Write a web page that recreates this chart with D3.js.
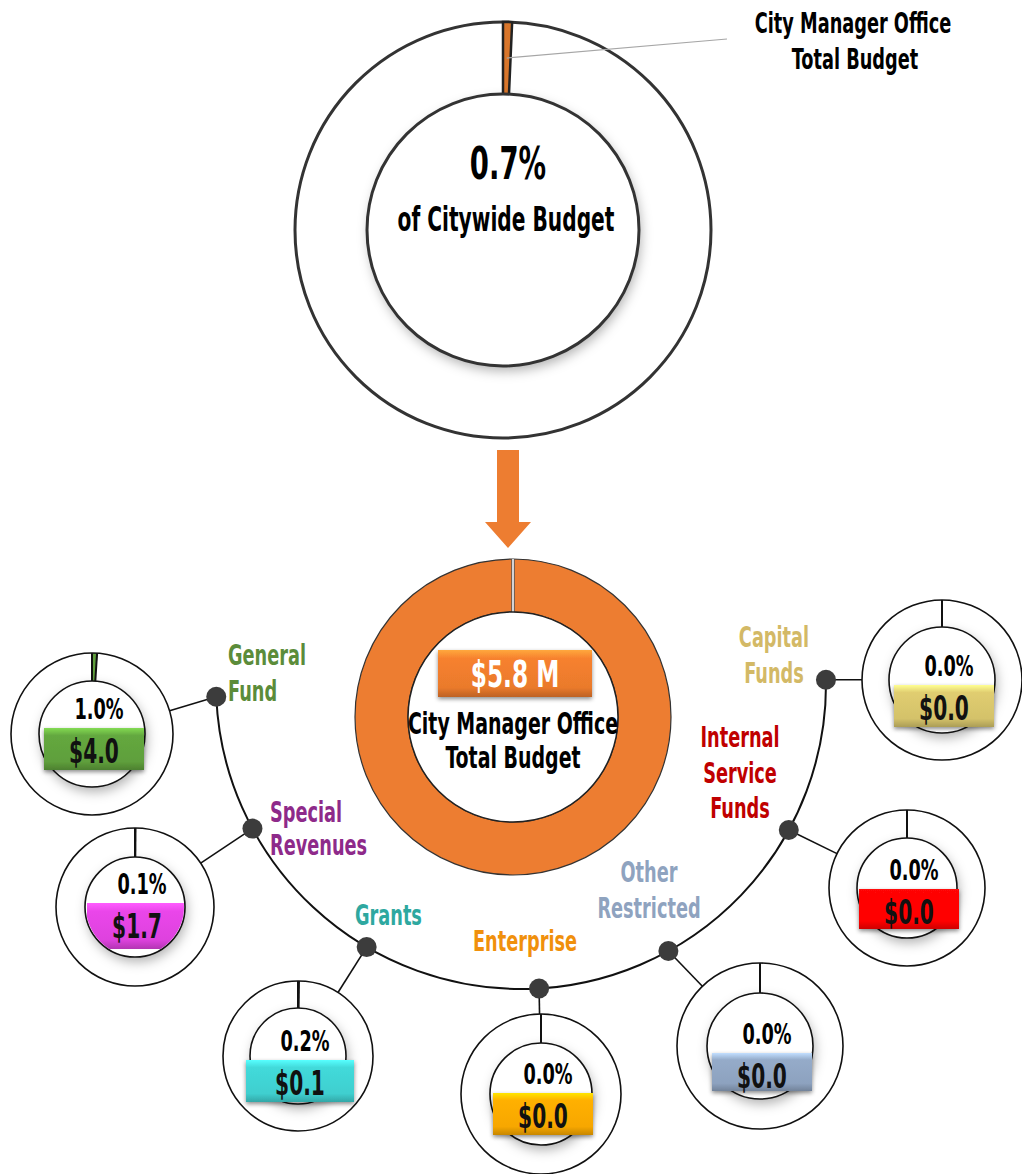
<!DOCTYPE html>
<html lang="en">
<head>
    <meta charset="UTF-8">
    <title>City Manager Office Budget</title>
    <script src="https://cdn.jsdelivr.net/npm/d3@7/dist/d3.min.js"></script>
    <style>
        html, body {
            margin: 0;
            padding: 0;
            background: #ffffff;
            overflow: hidden;
        }
        text {
            font-family: 'DejaVu Sans Condensed', 'DejaVu Sans', sans-serif;
            font-weight: bold;
        }
    </style>
</head>
<body>
<script>
    // share of the citywide budget (percent)
    const citywideShare = [0.7, 99.3];
    const officeTotal = 5.8;   // $ M

    // fund breakdown
    const fundNames = ['General Fund', 'Special Revenues', 'Grants', 'Enterprise',
        'Other Restricted', 'Internal Service Funds', 'Capital Funds'];
    const fundPct = [1.0, 0.1, 0.2, 0.0, 0.0, 0.0, 0.0];
    const fundAmt = [4.0, 1.7, 0.1, 0.0, 0.0, 0.0, 0.0];
    const fundLabelColor = ['#5b8c3a', '#8e2a8a', '#2ea8a0', '#f0900c', '#8fa3bf', '#c00000', '#d3b966'];
    const fundBoxColor = ['#5f9f3c', '#de42de', '#3fcfcf', '#f7a700', '#8da2bf', '#ff0505', '#d4c26a'];

    // layout of the small donuts (positions only)
    const fundLayout = [
        {cx: 92, cy: 734, R: 81, r: 53, boxTop: 728, angle: 177.6, lines: ['General', 'Fund'], lx: 228, ly: 665, lh: 36, anchor: 'start'},
        {cx: 135, cy: 907, R: 79, r: 50, boxTop: 903, boxH: 46, clip: true, angle: 151.7, lines: ['Special', 'Revenues'], lx: 270, ly: 822, lh: 33, anchor: 'start'},
        {cx: 298, cy: 1056, R: 75, r: 48, boxTop: 1060, boxW: 108, angle: 120.4, lines: ['Grants'], lx: 355, ly: 925, lh: 36, anchor: 'start'},
        {cx: 541, cy: 1094, R: 80, r: 51, boxTop: 1093, angle: 86.6, lines: ['Enterprise'], lx: 473, ly: 951, lh: 36, anchor: 'start'},
        {cx: 760, cy: 1046, R: 83, r: 53, boxTop: 1053, boxH: 38, angle: 61.1, lines: ['Other', 'Restricted'], lx: 649, ly: 882, lh: 36, anchor: 'middle'},
        {cx: 907, cy: 888, R: 78, r: 50, boxTop: 889, boxH: 40, angle: 28.6, lines: ['Internal', 'Service', 'Funds'], lx: 740, ly: 747, lh: 35.5, anchor: 'middle'},
        {cx: 942, cy: 680, R: 80, r: 53, boxTop: 685, angle: -0.8, lines: ['Capital', 'Funds'], lx: 774, ly: 647, lh: 36, anchor: 'middle'}
    ];

    const width = 1022;
    const height = 1174;
    const SX = 0.68; // squeeze text horizontally (condensed face)

    let svg = d3.select('body')
        .append('svg')
        .attr('width', width)
        .attr('height', height);

    let defs = svg.append('defs');

    // soft shadow for the inner circles
    let sh = defs.append('filter').attr('id', 'innerShadow')
        .attr('x', '-30%').attr('y', '-30%').attr('width', '160%').attr('height', '160%');
    sh.append('feDropShadow').attr('dx', 2).attr('dy', 5).attr('stdDeviation', 6)
        .attr('flood-color', '#000').attr('flood-opacity', 0.3);

    let bs = defs.append('filter').attr('id', 'boxShadow')
        .attr('x', '-20%').attr('y', '-30%').attr('width', '140%').attr('height', '170%');
    bs.append('feDropShadow').attr('dx', 0).attr('dy', 2).attr('stdDeviation', 2)
        .attr('flood-color', '#000').attr('flood-opacity', 0.45);

    function bevel(id, base) {
        let c = d3.color(base);
        let g = defs.append('linearGradient').attr('id', id)
            .attr('x1', 0).attr('y1', 0).attr('x2', 0).attr('y2', 1);
        g.append('stop').attr('offset', '0%').attr('stop-color', c.brighter(0.9));
        g.append('stop').attr('offset', '18%').attr('stop-color', c.brighter(0.15));
        g.append('stop').attr('offset', '80%').attr('stop-color', c);
        g.append('stop').attr('offset', '100%').attr('stop-color', c.darker(0.6));
        return `url(#${id})`;
    }

    function label(sel, str, x, y, size, fill, anchor) {
        return sel.append('text')
            .attr('transform', `translate(${x},${y}) scale(${SX},1)`)
            .attr('text-anchor', anchor || 'middle')
            .style('font-size', size + 'px')
            .attr('fill', fill || '#000')
            .text(str);
    }

    let pie = d3.pie().sort(null).value(d => d);
    let fmtPct = d => d3.format('.1f')(d) + '%';
    let fmtAmt = d3.format('$.1f');

    // ---------- top donut: share of citywide budget ----------
    let topD = {cx: 503, cy: 230, R: 208, r: 136};
    let topG = svg.append('g').attr('transform', `translate(${topD.cx},${topD.cy})`);
    let topArcs = pie(citywideShare);
    let topArc = d3.arc().innerRadius(topD.r).outerRadius(topD.R);

    topG.append('circle').attr('r', topD.R).attr('fill', '#fff')
        .attr('stroke', '#333').attr('stroke-width', 3);
    topG.append('path').attr('d', topArc(topArcs[0]))
        .attr('fill', '#d9762b').attr('stroke', '#222').attr('stroke-width', 2.5);
    topG.append('circle').attr('r', topD.r).attr('fill', '#fff')
        .attr('filter', 'url(#innerShadow)');
    topG.append('circle').attr('r', topD.r).attr('fill', 'none')
        .attr('stroke', '#333').attr('stroke-width', 3);

    label(topG, fmtPct(citywideShare[0]), 5, -51, 45);
    label(topG, 'of Citywide Budget', 3, 1, 33);

    // leader to the callout
    let mid = (topArcs[0].startAngle + topArcs[0].endAngle) / 2;
    svg.append('line')
        .attr('x1', topD.cx + Math.sin(mid) * 172).attr('y1', topD.cy - Math.cos(mid) * 172)
        .attr('x2', 727).attr('y2', 39)
        .attr('stroke', '#a6a6a6').attr('stroke-width', 1.2);
    label(svg, 'City Manager Office', 853, 33, 29);
    label(svg, 'Total Budget', 855, 69, 29);

    // ---------- arrow ----------
    let ar = {x: 508, y0: 450, y1: 522, tip: 548, shaft: 11, head: 23};
    svg.append('path')
        .attr('d', d3.line()([
            [ar.x - ar.shaft, ar.y0], [ar.x + ar.shaft, ar.y0], [ar.x + ar.shaft, ar.y1],
            [ar.x + ar.head, ar.y1], [ar.x, ar.tip], [ar.x - ar.head, ar.y1],
            [ar.x - ar.shaft, ar.y1]
        ]) + 'Z')
        .attr('fill', '#ed7d31');

    // ---------- office donut ----------
    let off = {cx: 513, cy: 717, R: 158, r: 105};
    let offG = svg.append('g').attr('transform', `translate(${off.cx},${off.cy})`);
    let offArc = d3.arc().innerRadius(off.r).outerRadius(off.R);
    offG.append('path').attr('d', offArc(pie([officeTotal])[0]))
        .attr('fill', '#ed7d31').attr('stroke', '#333').attr('stroke-width', 1.2);
    offG.append('line').attr('x1', 0).attr('x2', 0).attr('y1', -off.R).attr('y2', -off.r)
        .attr('stroke', '#555').attr('stroke-width', 3.5);
    offG.append('line').attr('x1', 0).attr('x2', 0).attr('y1', -off.R).attr('y2', -off.r)
        .attr('stroke', '#fff').attr('stroke-width', 1.5);
    offG.append('circle').attr('r', off.r).attr('fill', '#fff')
        .attr('stroke', '#222').attr('stroke-width', 1.5);

    offG.append('rect')
        .attr('x', -75).attr('y', -67).attr('width', 154).attr('height', 47)
        .attr('fill', bevel('gOffice', '#ea7a2c'))
        .attr('filter', 'url(#boxShadow)');
    label(offG, fmtAmt(officeTotal) + ' M', 2, -30, 38, '#fff');
    label(offG, 'City Manager Office', 0, 17, 31);
    label(offG, 'Total Budget', 0, 51, 31);

    // ---------- connecting arc ----------
    let hub = {cx: 521, cy: 684, r: 305};
    let rad = a => a * Math.PI / 180;
    let angles = fundLayout.map(d => d.angle);
    let arcPath = d3.path();
    arcPath.arc(hub.cx, hub.cy, hub.r, rad(d3.min(angles)), rad(d3.max(angles)), false);
    svg.append('path').attr('d', arcPath.toString())
        .attr('fill', 'none').attr('stroke', '#111').attr('stroke-width', 2);

    let dotPos = d => [hub.cx + hub.r * Math.cos(rad(d.angle)), hub.cy + hub.r * Math.sin(rad(d.angle))];

    // connectors
    fundLayout.forEach(d => {
        let [px, py] = dotPos(d);
        let dx = px - d.cx, dy = py - d.cy, len = Math.hypot(dx, dy);
        svg.append('line')
            .attr('x1', px).attr('y1', py)
            .attr('x2', d.cx + dx / len * d.R).attr('y2', d.cy + dy / len * d.R)
            .attr('stroke', '#111').attr('stroke-width', 1.6);
    });

    // ---------- small fund donuts ----------
    fundNames.forEach((name, i) => {
        let d = fundLayout[i];
        let g = svg.append('g').attr('transform', `translate(${d.cx},${d.cy})`);
        let arcs = pie([fundPct[i], 100 - fundPct[i]]);
        let arc = d3.arc().innerRadius(d.r).outerRadius(d.R);

        g.append('circle').attr('r', d.R).attr('fill', '#fff');
        g.append('path').attr('d', arc(arcs[0])).attr('fill', fundBoxColor[i]);
        g.append('circle').attr('r', d.r).attr('fill', '#fff')
            .attr('filter', 'url(#innerShadow)');
        g.append('circle').attr('r', d.R).attr('fill', 'none')
            .attr('stroke', '#111').attr('stroke-width', 1.6);
        g.append('circle').attr('r', d.r).attr('fill', 'none')
            .attr('stroke', '#111').attr('stroke-width', 1.6);

        // slice boundaries
        arcs.forEach(a => {
            g.append('line')
                .attr('x1', Math.sin(a.startAngle) * d.r).attr('y1', -Math.cos(a.startAngle) * d.r)
                .attr('x2', Math.sin(a.startAngle) * d.R).attr('y2', -Math.cos(a.startAngle) * d.R)
                .attr('stroke', '#111').attr('stroke-width', 2);
        });

        let bw = d.boxW || 100, bh = d.boxH || 42;
        let by = d.boxTop - d.cy;
        let box = g.append('rect')
            .attr('x', -bw / 2 + 2).attr('y', by)
            .attr('width', bw).attr('height', bh)
            .attr('fill', bevel('gFund' + i, fundBoxColor[i]));
        if (d.clip) {
            g.append('clipPath').attr('id', 'clip' + i)
                .append('circle').attr('r', d.r - 1);
            box.attr('clip-path', `url(#clip${i})`);
        } else {
            box.attr('filter', 'url(#boxShadow)');
        }

        label(g, fmtPct(fundPct[i]), 7, by - 9, 29);
        label(g, fmtAmt(fundAmt[i]), 2, by + 35, 33, '#111');

        // category label
        d.lines.forEach((t, k) => {
            label(svg, t, d.lx, d.ly + k * d.lh, 29, fundLabelColor[i], d.anchor);
        });
    });

    // dots on the arc
    svg.selectAll('.dot')
        .data(fundLayout)
        .enter().append('circle')
        .classed('dot', true)
        .attr('cx', d => dotPos(d)[0])
        .attr('cy', d => dotPos(d)[1])
        .attr('r', 10)
        .attr('fill', '#3c3c3c');
</script>
</body>
</html>
